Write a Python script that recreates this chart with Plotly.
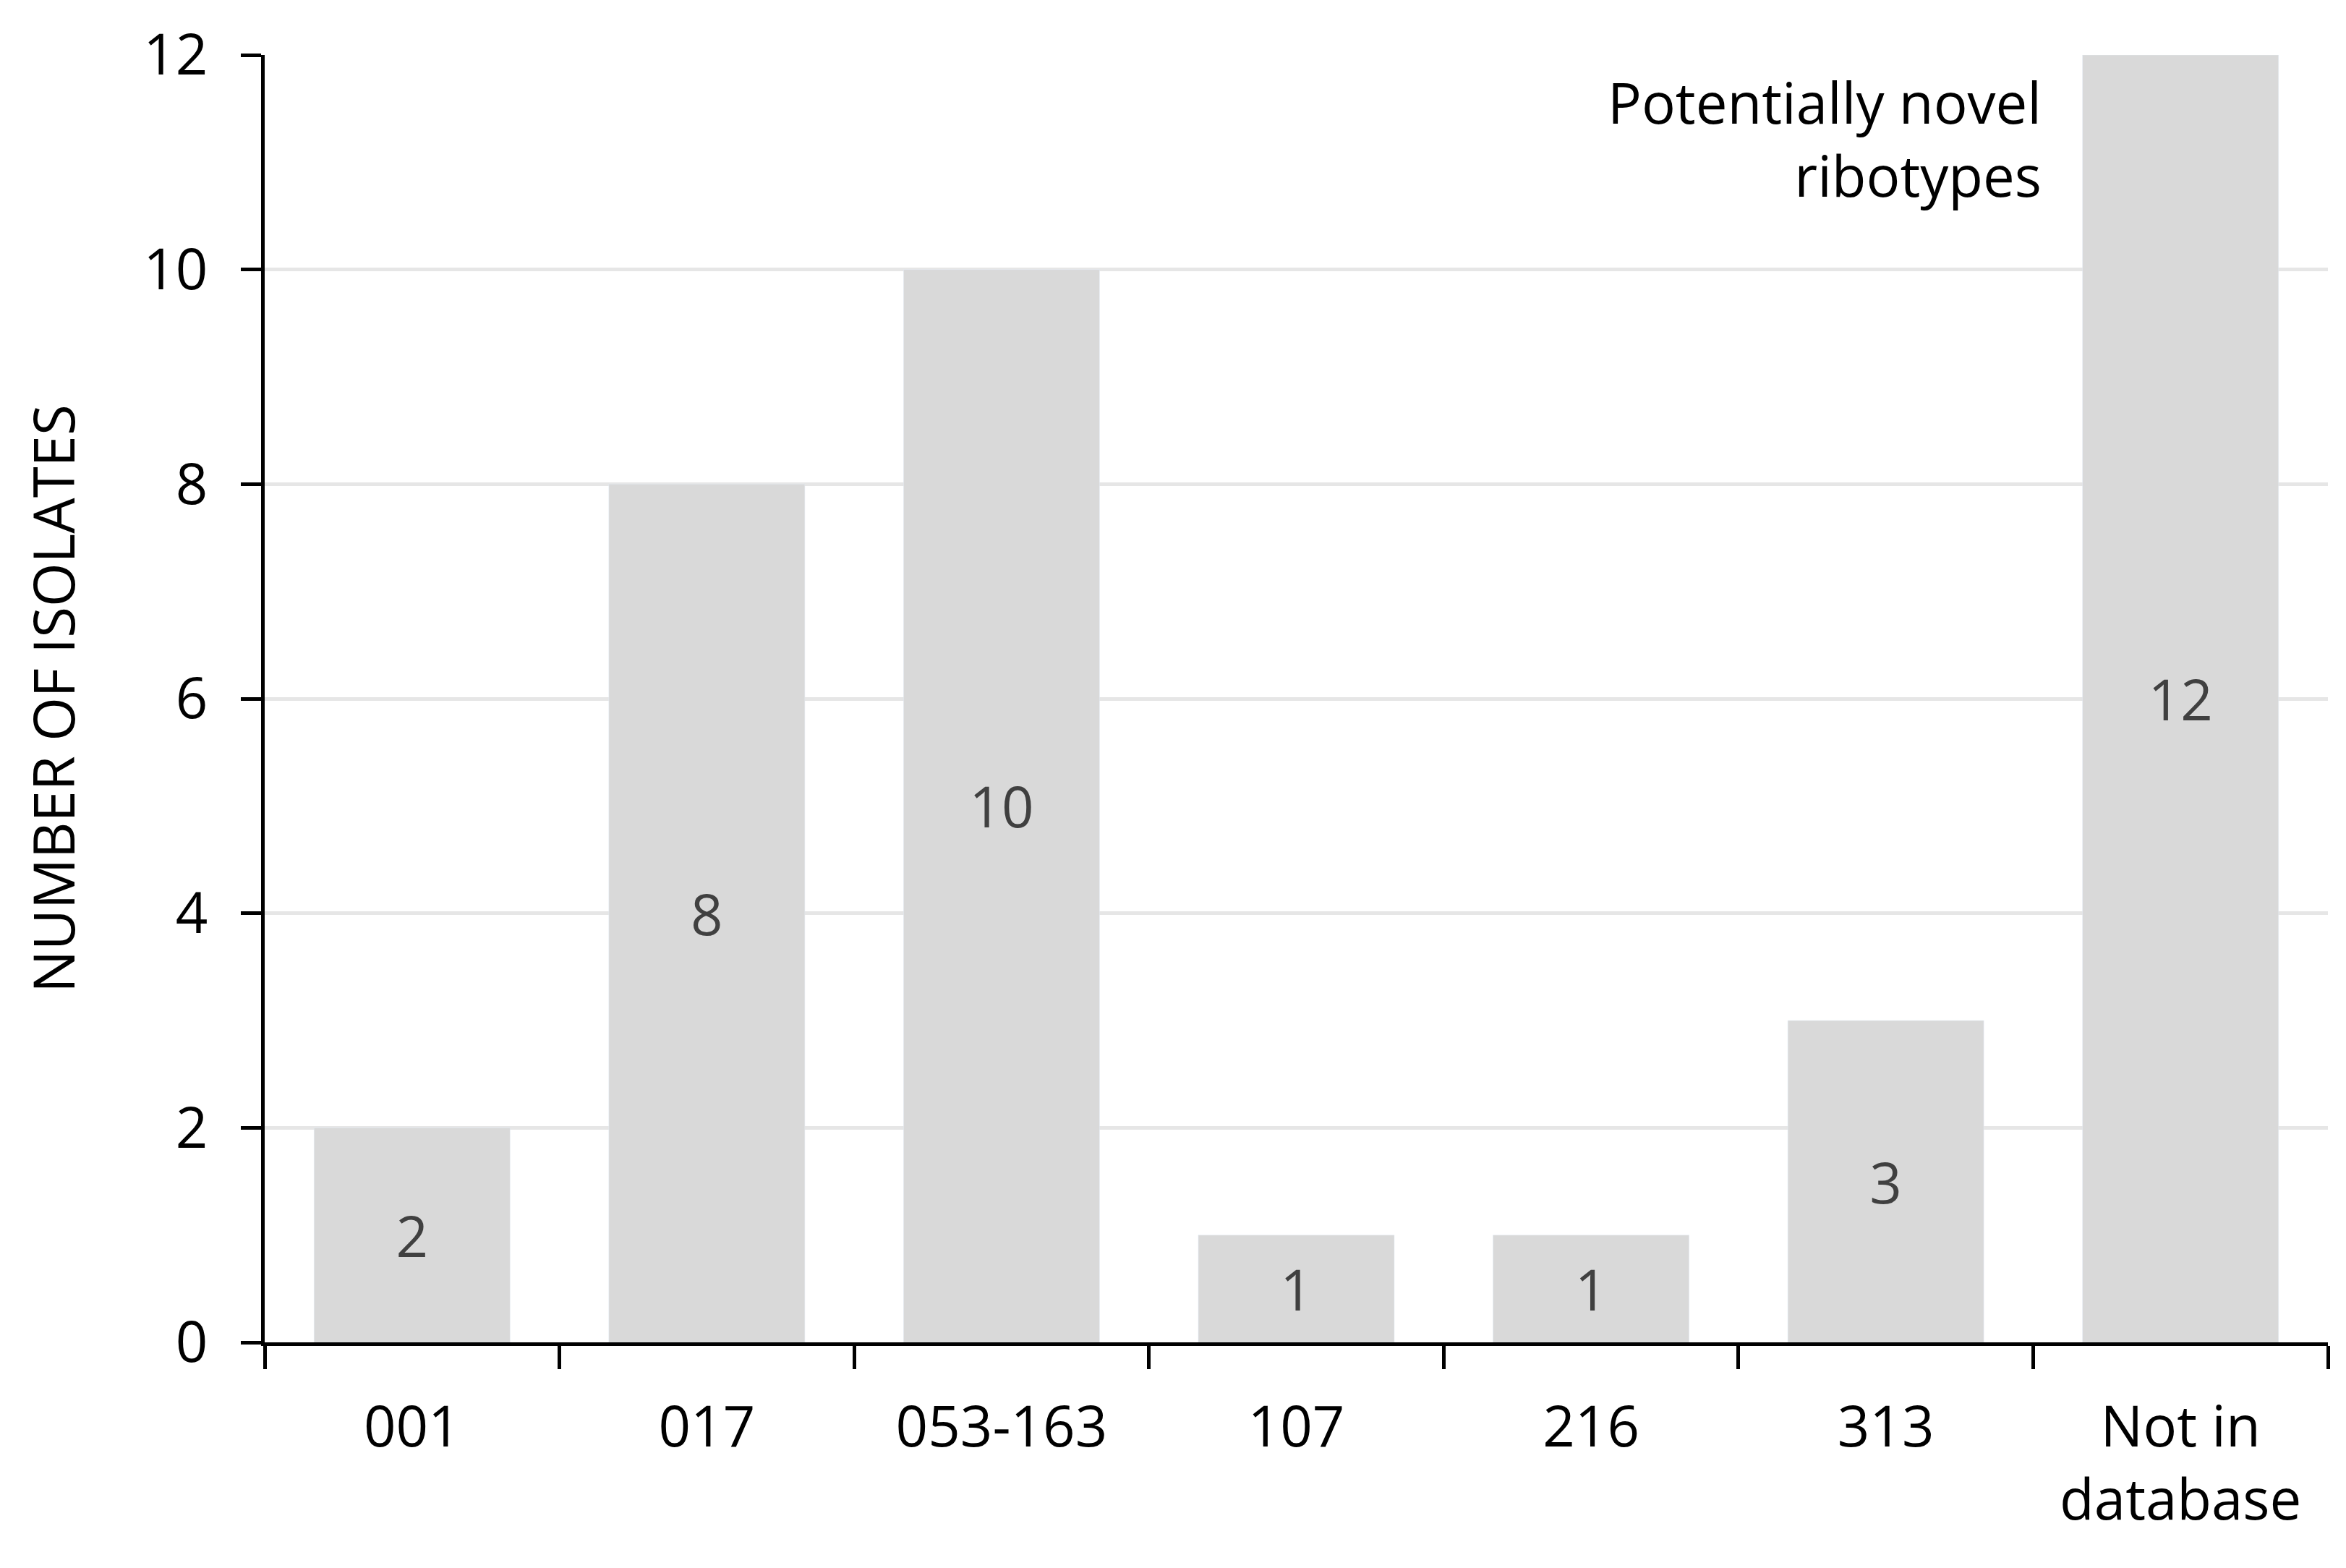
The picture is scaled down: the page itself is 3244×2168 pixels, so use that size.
import plotly.graph_objects as go

categories = ["001", "017", "053-163", "107", "216", "313", "Not in<br>database"]
values = [2, 8, 10, 1, 1, 3, 12]
annotation_text = "Potentially novel<br>ribotypes"

fig = go.Figure(go.Bar(
    x=categories, y=values, width=0.665,
    marker_color="#d9d9d9",
    text=[str(v) for v in values], textposition="inside", insidetextanchor="middle",
    textfont=dict(size=78, color="#404040", family="Open Sans"),
))
fig.add_annotation(x=6, y=12, xref="x", yref="y", xshift=-190, yshift=-10,
                   text=annotation_text, showarrow=False, xanchor="right", yanchor="top",
                   align="right", font=dict(size=78, color="black", family="Open Sans"))
fig.update_layout(
    width=3244, height=2168, paper_bgcolor="white", plot_bgcolor="white",
    margin=dict(l=358, r=33, t=58, b=320), showlegend=False,
    font=dict(family="Open Sans", size=78, color="black"),
)
fig.update_xaxes(showline=True, linecolor="black", linewidth=5, ticks="outside",
                 tickson="boundaries", ticklen=32, tickwidth=5, tickcolor="black",
                 tickfont=dict(size=78), ticklabelstandoff=45)
fig.update_yaxes(range=[0, 12], dtick=2, showline=True, linecolor="black", linewidth=5,
                 ticks="outside", ticklen=28, tickwidth=5, tickcolor="black",
                 showgrid=True, gridcolor="#e6e6e6", gridwidth=5, zeroline=False,
                 ticklabelstandoff=30,
                 title=dict(text="NUMBER OF ISOLATES", font=dict(size=78), standoff=70),
                 tickfont=dict(size=78))
fig.write_html("out.html")
